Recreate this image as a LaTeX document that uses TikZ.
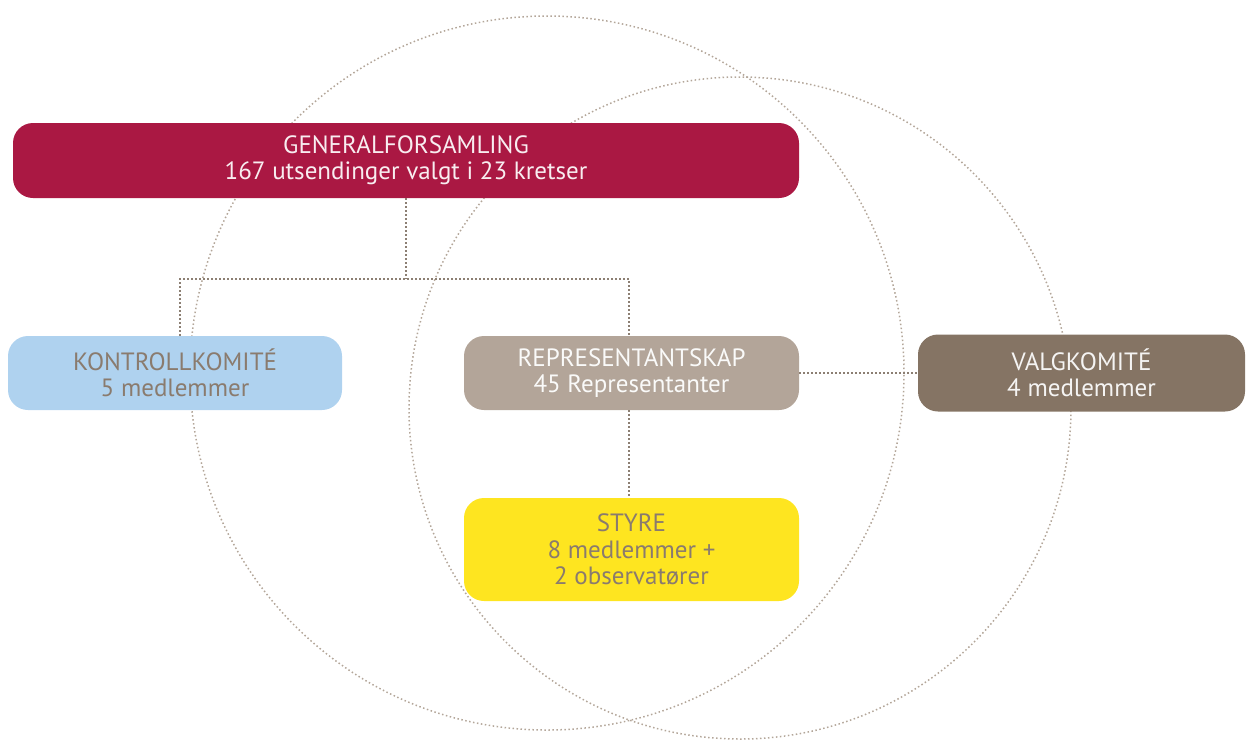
\documentclass[tikz,border=0pt]{standalone}
\usepackage{fontspec}
\setmainfont{PT Sans}
\usetikzlibrary{positioning, calc}
\definecolor{gfred}{HTML}{AA1843}
\definecolor{kkblue}{HTML}{AFD2EF}
\definecolor{reptaupe}{HTML}{B3A599}
\definecolor{vkbrown}{HTML}{857464}
\definecolor{styreyellow}{HTML}{FEE520}
\definecolor{txtgrey}{HTML}{8A7B6E}
\definecolor{ringgrey}{HTML}{B3A699}
\definecolor{linkgrey}{HTML}{8C7F73}
\tikzset{
    box_base/.style={
        rectangle, rounded corners=10pt, draw=none,
        align=center, font=\fontsize{12.5}{13.2}\selectfont,
        inner sep=0pt
    },
    box_wide_red/.style={
        box_base, fill=gfred, text=white!92!gfred,
        minimum width=393pt, minimum height=37.5pt
    },
    box_mid_blue/.style={
        box_base, fill=kkblue, text=txtgrey,
        minimum width=167pt, minimum height=37pt
    },
    box_mid_taupe/.style={
        box_base, fill=reptaupe, text=white!94!reptaupe,
        minimum width=167.5pt, minimum height=37pt
    },
    box_mid_brown/.style={
        box_base, fill=vkbrown, text=white!92!vkbrown,
        minimum width=163.5pt, minimum height=38.5pt
    },
    box_tall_yellow/.style={
        box_base, fill=styreyellow, text=txtgrey,
        minimum width=167.5pt, minimum height=51.5pt
    },
    ring/.style={
        draw=ringgrey, line width=0.75pt, dash pattern=on 0.75pt off 1.25pt
    },
    org_link/.style={
        draw=linkgrey, line width=0.8pt, dash pattern=on 0.8pt off 1.2pt
    }
}

\begin{document}
\begin{tikzpicture}[x=0.5pt, y=-0.5pt]
    \useasboundingbox (0,0) rectangle (1246,740);

    % Rings
    \draw[ring] (547,373) circle[radius=178.5pt];
    \draw[ring] (740,408) circle[radius=165.5pt];

    % Top
    \node[box_wide_red] (gen) at (406,160.5) {GENERALFORSAMLING\\167 utsendinger valgt i 23 kretser};

    % Middle Row
    \node[box_mid_blue] (kontroll) at (175,373) {KONTROLLKOMITÉ\\5 medlemmer};
    \node[box_mid_taupe] (rep) at (631.5,373) {REPRESENTANTSKAP\\45 Representanter};
    \node[box_mid_brown] (valg) at (1081.5,373) {VALGKOMITÉ\\4 medlemmer};

    % Bottom
    \node[box_tall_yellow] (styre) at (631.5,549.5) {STYRE\\8 medlemmer +\\2 observatører};

    % Connectors
    \coordinate (busL) at (180,279);
    \coordinate (busR) at (629,279);
    \draw[org_link] (gen.south) -- (gen.south |- busL);
    \draw[org_link] (kontroll.north -| busL) -- (busL) -- (busR) -- (rep.north -| busR);
    \draw[org_link] (rep.south -| busR) -- (styre.north -| busR);
    \draw[org_link] (rep.east) -- (valg.west);
\end{tikzpicture}
\end{document}
